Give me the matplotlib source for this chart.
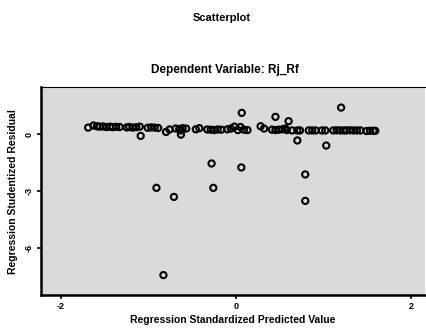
import numpy as np
import matplotlib.pyplot as plt

plt.rcParams['font.family'] = ['Liberation Sans', 'DejaVu Sans']

# main band of residuals near zero
band_x = [-1.69, -1.63, -1.59, -1.56, -1.52, -1.48, -1.44, -1.41, -1.37, -1.33,
          -1.25, -1.22, -1.18, -1.14, -1.10, -1.01, -0.97, -0.93, -0.89, -0.80,
          -0.76, -0.69, -0.65, -0.61, -0.57, -0.63, -0.46, -0.42, -0.33, -0.29,
          -0.25, -0.21, -0.17, -0.10, -0.06, -0.02, 0.02, 0.05, 0.09, 0.13,
          0.28, 0.32, 0.41, 0.45, 0.49, 0.53, 0.56, 0.58, 0.64, 0.70,
          0.73, 0.83, 0.87, 0.91, 0.98, 1.02, 1.11, 1.15, 1.19, 1.23,
          1.26, 1.30, 1.34, 1.38, 1.42, 1.49, 1.53, 1.57, 1.59]
band_y = [0.35, 0.46, 0.42, 0.40, 0.41, 0.38, 0.40, 0.37, 0.39, 0.38,
          0.36, 0.38, 0.35, 0.37, 0.40, 0.34, 0.36, 0.35, 0.33, 0.12,
          0.25, 0.30, 0.28, 0.32, 0.30, 0.20, 0.26, 0.32, 0.25, 0.24,
          0.22, 0.25, 0.24, 0.26, 0.30, 0.40, 0.22, 0.38, 0.24, 0.22,
          0.42, 0.30, 0.24, 0.22, 0.24, 0.26, 0.30, 0.22, 0.20, 0.20,
          0.20, 0.20, 0.20, 0.20, 0.20, 0.20, 0.20, 0.21, 0.20, 0.20,
          0.20, 0.21, 0.20, 0.20, 0.20, 0.17, 0.18, 0.18, 0.18]

# scattered residuals away from the band
out_x = [1.20, 0.065, 0.45, 0.60, -1.09, -0.63, 0.70, 1.03, -0.28, 0.06,
         0.79, -0.91, -0.26, -0.71, 0.79, -0.83]
out_y = [1.41, 1.13, 0.92, 0.69, -0.09, -0.02, -0.33, -0.60, -1.55, -1.76,
         -2.13, -2.84, -2.84, -3.32, -3.53, -7.46]

x = band_x + out_x
y = band_y + out_y

fig = plt.figure(figsize=(4.26, 3.29), dpi=100)
ax = fig.add_axes([0.096, 0.103, 0.902, 0.632])
ax.set_facecolor('#dadada')
ax.scatter(x, y, s=20, facecolors='none', edgecolors='black', linewidths=1.5, zorder=3)

ax.set_xlim(-2.23, 2.16)
ax.set_ylim(-8.52, 2.49)
ax.set_xticks([-2, 0, 2])
ax.set_yticks([0, -3, -6])
ax.set_xticklabels(['-2', '0', '2'])
ax.set_yticklabels(['0', '-3', '-6'], rotation=90, va='center')
ax.tick_params(direction='out', length=3, width=1.2, labelsize=6.5, pad=2)
for lab in ax.get_xticklabels() + ax.get_yticklabels():
    lab.set_fontweight('bold')

ax.spines['left'].set_linewidth(1.8)
ax.spines['bottom'].set_linewidth(1.8)
ax.spines['top'].set_linewidth(0.8)
ax.spines['right'].set_visible(False)

ax.set_xlabel('Regression Standardized Predicted Value', fontsize=7.5,
              fontweight='bold', labelpad=3)
ax.set_ylabel('Regression Studentized Residual', fontsize=7.5,
              fontweight='bold', labelpad=5)

fig.text(0.52, 0.945, 'Scatterplot', ha='center', va='center',
         fontsize=8, fontweight='bold')
fig.text(0.528, 0.787, 'Dependent Variable: Rj_Rf', ha='center', va='center',
         fontsize=8.5, fontweight='bold')

fig.savefig('out.png', dpi=100)
